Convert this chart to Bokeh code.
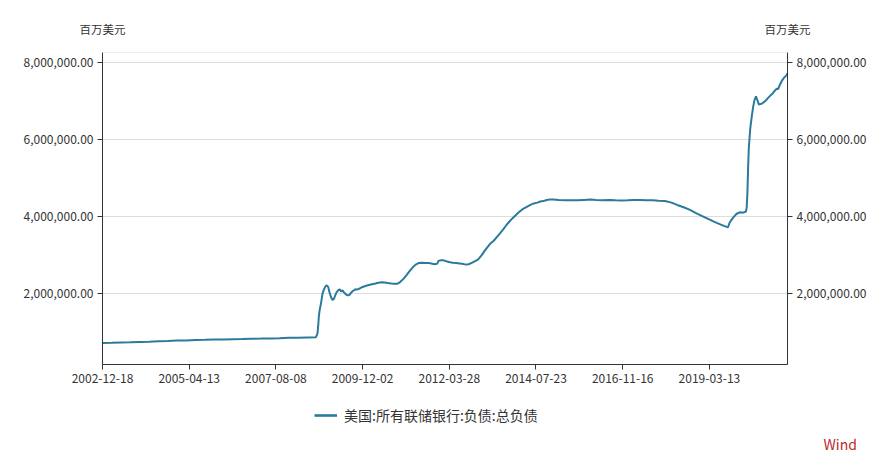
import pandas as pd
from bokeh.plotting import figure
from bokeh.layouts import column
from bokeh.models import (LinearAxis, Range1d, FixedTicker, NumeralTickFormatter,
                          DatetimeTickFormatter, Legend, LegendItem, Span)
from bokeh.embed import file_html
from bokeh.resources import INLINE

series_name = "美国:所有联储银行:负债:总负债"
unit_label = "百万美元"
source_label = "Wind"

dates = [
    "2002-12-18", "2003-03-19", "2003-06-18", "2003-09-17", "2003-12-17", "2004-03-17",
    "2004-06-16", "2004-09-15", "2004-12-15", "2005-03-16", "2005-06-15", "2005-09-14",
    "2005-12-14", "2006-03-15", "2006-06-14", "2006-09-13", "2006-12-13", "2007-03-14",
    "2007-06-13", "2007-09-12", "2007-12-12", "2008-03-12", "2008-06-11", "2008-09-03",
    "2008-09-17", "2008-09-24", "2008-10-01", "2008-10-08", "2008-10-22", "2008-11-05",
    "2008-11-19", "2008-12-03", "2008-12-17", "2008-12-31", "2009-01-14", "2009-01-28",
    "2009-02-11", "2009-02-25", "2009-03-11", "2009-03-25", "2009-04-08", "2009-04-22",
    "2009-05-06", "2009-05-20", "2009-06-03", "2009-06-17", "2009-07-01", "2009-07-15",
    "2009-07-29", "2009-08-12", "2009-08-26", "2009-09-09", "2009-09-23", "2009-10-07",
    "2009-11-04", "2009-12-02", "2010-01-06", "2010-02-03", "2010-03-03", "2010-04-07",
    "2010-05-05", "2010-06-09", "2010-07-07", "2010-08-04", "2010-09-08", "2010-10-06",
    "2010-11-03", "2010-12-01", "2011-01-05", "2011-02-02", "2011-03-02", "2011-04-06",
    "2011-05-04", "2011-06-01", "2011-07-06", "2011-08-03", "2011-09-07", "2011-10-05",
    "2011-11-02", "2011-11-30", "2011-12-14", "2012-01-04", "2012-02-01", "2012-03-07",
    "2012-04-04", "2012-05-02", "2012-06-06", "2012-07-04", "2012-08-01", "2012-09-05",
    "2012-10-03", "2012-11-07", "2012-12-05", "2013-01-02", "2013-02-06", "2013-03-06",
    "2013-04-03", "2013-05-01", "2013-06-05", "2013-07-03", "2013-08-07", "2013-09-04",
    "2013-10-02", "2013-11-06", "2013-12-04", "2014-01-08", "2014-02-05", "2014-03-05",
    "2014-04-02", "2014-05-07", "2014-06-04", "2014-07-02", "2014-08-06", "2014-09-03",
    "2014-10-01", "2014-11-05", "2014-12-03", "2015-01-07", "2015-03-04", "2015-05-06",
    "2015-07-01", "2015-09-02", "2015-11-04", "2016-01-06", "2016-03-02", "2016-05-04",
    "2016-07-06", "2016-09-07", "2016-11-02", "2017-01-04", "2017-03-01", "2017-05-03",
    "2017-07-05", "2017-09-06", "2017-11-01", "2018-01-03", "2018-03-07", "2018-05-02",
    "2018-07-04", "2018-09-05", "2018-11-07", "2019-01-02", "2019-03-06", "2019-05-01",
    "2019-07-03", "2019-08-28", "2019-09-11", "2019-09-25", "2019-10-09", "2019-11-06",
    "2019-12-04", "2020-01-08", "2020-02-05", "2020-03-04", "2020-03-11", "2020-03-18",
    "2020-03-25", "2020-04-01", "2020-04-15", "2020-04-29", "2020-05-13", "2020-05-27",
    "2020-06-10", "2020-06-24", "2020-07-08", "2020-07-22", "2020-08-05", "2020-08-26",
    "2020-09-16", "2020-10-07", "2020-10-28", "2020-11-18", "2020-12-09", "2020-12-30",
    "2021-01-13", "2021-01-27", "2021-02-10", "2021-02-24", "2021-03-10", "2021-03-24",
    "2021-04-07", "2021-04-14",
]

values = [
    712000, 718000, 728000, 732000, 742000, 746000,
    758000, 765000, 778000, 781000, 790000, 795000,
    803000, 806000, 812000, 818000, 826000, 828000,
    833000, 840000, 848000, 850000, 858000, 864000,
    960000, 1150000, 1420000, 1560000, 1750000, 1990000,
    2100000, 2180000, 2210000, 2170000, 2020000, 1900000,
    1830000, 1860000, 1960000, 2040000, 2080000, 2110000,
    2050000, 2080000, 2030000, 1990000, 1960000, 1950000,
    1970000, 2020000, 2060000, 2080000, 2110000, 2100000,
    2130000, 2170000, 2200000, 2220000, 2240000, 2260000,
    2280000, 2290000, 2285000, 2270000, 2260000, 2255000,
    2250000, 2290000, 2380000, 2470000, 2570000, 2680000,
    2750000, 2790000, 2800000, 2790000, 2790000, 2780000,
    2760000, 2770000, 2850000, 2860000, 2860000, 2830000,
    2810000, 2800000, 2790000, 2780000, 2770000, 2750000,
    2760000, 2800000, 2840000, 2880000, 2990000, 3100000,
    3200000, 3290000, 3370000, 3460000, 3570000, 3660000,
    3760000, 3870000, 3950000, 4040000, 4110000, 4170000,
    4220000, 4270000, 4310000, 4340000, 4360000, 4390000,
    4400000, 4430000, 4440000, 4440000, 4430000, 4420000,
    4425000, 4420000, 4430000, 4440000, 4430000, 4425000,
    4430000, 4420000, 4415000, 4420000, 4430000, 4430000,
    4420000, 4420000, 4410000, 4400000, 4360000, 4300000,
    4240000, 4170000, 4080000, 4010000, 3930000, 3860000,
    3790000, 3730000, 3720000, 3830000, 3890000, 3990000,
    4070000, 4110000, 4100000, 4130000, 4230000, 4580000,
    5250000, 5780000, 6280000, 6580000, 6840000, 7030000,
    7120000, 7020000, 6910000, 6920000, 6930000, 6970000,
    7020000, 7080000, 7140000, 7190000, 7260000, 7320000,
    7310000, 7410000, 7480000, 7550000, 7600000, 7640000,
    7680000, 7720000,
]

x_tick_dates = ["2002-12-18", "2005-04-13", "2007-08-08", "2009-12-02",
                "2012-03-28", "2014-07-23", "2016-11-16", "2019-03-13"]
y_ticks = [2000000, 4000000, 6000000, 8000000]

FONT = "Noto Sans CJK SC"
LINE_COLOR = "#2b7a9b"
TEXT_COLOR = "#333333"
LINE_WIDTH = 2.0

dt = pd.to_datetime(dates)
x_start_ms = int(dt[0].value // 10**6)
x_end_ms = int(dt[-1].value // 10**6)
y_min, y_max = 155000, 8260000

W = 889
MAIN_H = 392
FOOT_H = 72

p = figure(width=W, height=MAIN_H, x_axis_type="datetime", title=None,
           output_backend="svg", toolbar_location=None,
           x_range=Range1d(x_start_ms, x_end_ms), y_range=Range1d(y_min, y_max),
           min_border_left=102, min_border_right=102, min_border_top=52, min_border_bottom=28)
p.outline_line_color = None
p.background_fill_color = "white"
p.border_fill_color = "white"

r = p.line(dt, values, line_color=LINE_COLOR, line_width=LINE_WIDTH)

x_tick_ms = [int(pd.Timestamp(d).value // 10**6) for d in x_tick_dates]
p.xaxis.ticker = FixedTicker(ticks=x_tick_ms)
fmt = "%Y-%m-%d"
p.xaxis.formatter = DatetimeTickFormatter(days=fmt, months=fmt, years=fmt, hours=fmt,
                                          minutes=fmt, seconds=fmt, milliseconds=fmt,
                                          minsec=fmt, hourmin=fmt)
p.yaxis.ticker = FixedTicker(ticks=y_ticks)
p.yaxis.formatter = NumeralTickFormatter(format="0,0.00")

right_axis = LinearAxis(ticker=FixedTicker(ticks=y_ticks),
                        formatter=NumeralTickFormatter(format="0,0.00"))
p.add_layout(right_axis, "right")

for ax in [p.xaxis[0], p.yaxis[0], right_axis]:
    ax.axis_line_color = TEXT_COLOR
    ax.axis_line_width = 1
    ax.major_tick_line_color = TEXT_COLOR
    ax.major_tick_out = 5
    ax.major_tick_in = 0
    ax.minor_tick_line_color = None
    ax.major_label_text_font = FONT
    ax.major_label_text_font_size = "12px"
    ax.major_label_text_color = TEXT_COLOR
    ax.major_label_standoff = 4

# unit names above both value axes
unit_axis = LinearAxis(ticker=FixedTicker(ticks=[x_start_ms, x_end_ms]),
                       major_label_overrides={x_start_ms: unit_label, x_end_ms: unit_label})
unit_axis.axis_line_color = None
unit_axis.major_tick_line_color = None
unit_axis.major_tick_out = 0
unit_axis.major_tick_in = 0
unit_axis.minor_tick_line_color = None
unit_axis.major_label_standoff = 16
unit_axis.major_label_text_font = FONT
unit_axis.major_label_text_font_size = "11.5px"
unit_axis.major_label_text_color = TEXT_COLOR
p.add_layout(unit_axis, "above")

p.xgrid.grid_line_color = None
p.ygrid.grid_line_color = "#dddddd"
p.ygrid.grid_line_width = 1
p.add_layout(Span(location=y_max, dimension="width", line_color="#dddddd", line_width=1))

# footer: legend and source mark
f = figure(width=W, height=FOOT_H, title=None, output_backend="svg", toolbar_location=None,
           x_axis_location=None, y_axis_location=None,
           x_range=Range1d(0, W), y_range=Range1d(0, FOOT_H),
           min_border_left=0, min_border_right=0, min_border_top=0, min_border_bottom=0)
f.grid.visible = False
f.outline_line_color = None
f.background_fill_color = "white"
f.border_fill_color = "white"

legend_r = f.line(x=[float("nan")], y=[float("nan")], line_color=LINE_COLOR, line_width=2.6)
legend = Legend(items=[LegendItem(label=series_name, renderers=[legend_r])],
                orientation="horizontal", location=(212, 39))
legend.label_text_font = FONT
legend.label_text_font_size = "14px"
legend.label_text_color = TEXT_COLOR
legend.border_line_color = None
legend.background_fill_alpha = 0
legend.glyph_width = 23
legend.label_standoff = 7
f.add_layout(legend)

# source mark carried by a bare right-hand axis of the footer
wind_pos = 21
wind_axis = LinearAxis(ticker=FixedTicker(ticks=[wind_pos]),
                       major_label_overrides={wind_pos: source_label})
wind_axis.axis_line_color = None
wind_axis.major_tick_line_color = None
wind_axis.major_tick_out = 0
wind_axis.major_tick_in = 0
wind_axis.minor_tick_line_color = None
wind_axis.major_label_standoff = 36
wind_axis.major_label_text_font = FONT
wind_axis.major_label_text_font_size = "14px"
wind_axis.major_label_text_color = "#c0272d"
f.add_layout(wind_axis, "right")

layout = column(p, f, spacing=0)
open("out.html", "w").write(file_html(layout, INLINE))
